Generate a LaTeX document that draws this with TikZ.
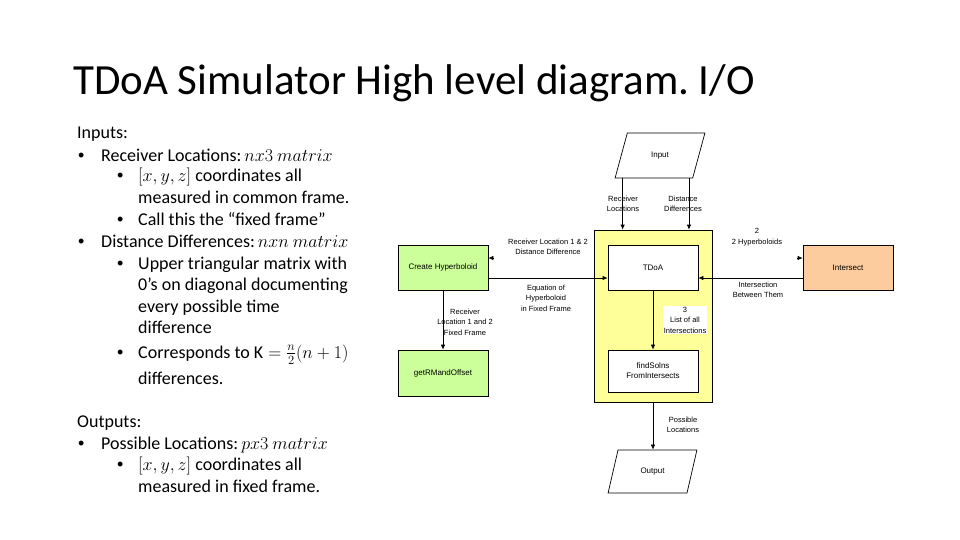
\RequirePackage{fix-cm}
\documentclass[tikz,border=0pt]{standalone}
\usepackage{amsmath}
\usepackage{fontspec}
\setmainfont{Carlito}
\newfontfamily\arialfont{Liberation Sans}
\usetikzlibrary{shapes.geometric,arrows.meta,calc}
\definecolor{yel}{RGB}{255,255,153}
\definecolor{grn}{RGB}{204,255,153}
\definecolor{org}{RGB}{252,204,158}
\frenchspacing
\begin{document}
\begin{tikzpicture}[x=1pt,y=-1pt,
  body/.style={anchor=base west, inner sep=0pt, font=\fontsize{18}{21}\selectfont},
  bul/.style={anchor=base west, inner sep=0pt, font=\arialfont\fontsize{18}{21}\selectfont},
  title/.style={anchor=base west, inner sep=0pt, font=\fontsize{43}{50}\selectfont},
  box/.style={draw, line width=0.7pt, minimum width=90pt, minimum height=45pt, align=center,
    font=\arialfont\fontsize{8}{10}\selectfont, inner sep=1pt},
  lab/.style={align=center, font=\arialfont\fontsize{7.5}{10.5}\selectfont, inner sep=1pt},
  arr/.style={line width=0.7pt, -{Latex[length=5pt,width=4.5pt]}},
  para/.style={draw, line width=0.7pt, trapezium, trapezium left angle=68, trapezium right angle=112,
    trapezium stretches=true, minimum width=90pt, minimum height=45pt,
    font=\arialfont\fontsize{8}{10}\selectfont, inner sep=1pt}
]
\useasboundingbox (0,0) rectangle (960,540);
\fill[white] (0,0) rectangle (960,540);

% title
\node[title] (ttl) at (73,95) {TDoA Simulator High level diagram. I/O};

% body text
\node[body] (l1) at (77,139) {Inputs:};
\node[bul] (b2) at (78,161) {•};
\node[body] (l2) at (101,161) {Receiver Locations:\,$nx3\ matrix$};
\node[bul] (b3) at (117,182) {•};
\node[body] (l3) at (138,182) {$[x,y,z]$ coordinates all};
\node[body] (l4) at (138,204) {measured in common frame.};
\node[bul] (b5) at (117,225) {•};
\node[body] (l5) at (138,225) {Call this the “fixed frame”};
\node[bul] (b6) at (78,247) {•};
\node[body] (l6) at (101,247) {Distance Differences:\,$nxn\ matrix$};
\node[bul] (b7) at (117,269) {•};
\node[body] (l7) at (138,269) {Upper triangular matrix with};
\node[body] (l8) at (138,290) {0’s on diagonal documenting};
\node[body] (l9) at (138,312) {every possible time};
\node[body] (l10) at (138,333) {difference};
\node[bul] (b11) at (117,358) {•};
\node[body] (l11) at (138,358) {Corresponds to $\mathrm{K}=\frac{n}{2}(n+1)$};
\node[body] (l12) at (138,384) {differences.};
\node[body] (l13) at (77,427) {Outputs:};
\node[bul] (b14) at (78,449) {•};
\node[body] (l14) at (101,449) {Possible Locations:\,$px3\ matrix$};
\node[bul] (b15) at (117,470) {•};
\node[body] (l15) at (138,470) {$[x,y,z]$ coordinates all};
\node[body] (l16) at (138,492) {measured in fixed frame.};

% diagram
\node[draw, line width=0.7pt, fill=yel, minimum width=118pt, minimum height=172pt] (frame) at (653,316) {};
\node[para] (input) at (660,155.5) {Input};
\node[box, fill=white] (tdoa) at (653,267.5) {TDoA};
\node[box, fill=white, minimum height=42pt] (find) at (653,371) {findSolns\\FromIntersects};
\node[box, fill=grn] (hyp) at (443,267.5) {Create Hyperboloid};
\node[box, fill=grn, minimum height=46pt] (getrm) at (443,373) {getRMandOffset};
\node[box, fill=org] (inter) at (848,267.5) {Intersect};
\node[para, minimum height=43pt, minimum width=89pt] (output) at (652.5,471.5) {Output};

% connectors
\draw[arr] ([xshift=8pt]input.bottom left corner) -- ([xshift=8pt]input.bottom left corner |- frame.north);
\draw[arr] ([xshift=-4pt]input.bottom right corner) -- ([xshift=-4pt]input.bottom right corner |- frame.north);
\draw[arr] ([yshift=-10.5pt]hyp.east) -- ([yshift=-10.5pt]tdoa.west);
\draw[arr, shorten <=114pt] ([yshift=9.5pt]tdoa.west) -- ([yshift=9.5pt]hyp.east);
\draw[arr] ([yshift=-10.5pt]inter.west) -- ([yshift=-10.5pt]tdoa.east);
\draw[arr, shorten <=99pt] ([yshift=9.5pt]tdoa.east) -- ([yshift=9.5pt]inter.west);
\draw[arr] (hyp.south) -- (getrm.north);
\draw[arr] (tdoa.south) -- (find.north);
\draw[arr] (frame.south) -- (frame.south |- output.north);

% labels
\node[lab] (lrl) at (623,204) {Receiver\\Locations};
\node[lab] (ldd) at (683,204) {Distance\\Differences};
\node[lab] (lrd) at (548,247) {Receiver Location 1 \& 2\\Distance Difference};
\node[lab] (leq) at (546,298) {Equation of\\Hyperboloid\\in Fixed Frame};
\node[lab] (lff) at (465,322) {Receiver\\Location 1 and 2\\Fixed Frame};
\node[lab] (l2h) at (757,237) {2\\2 Hyperboloids};
\node[lab] (lib) at (758,290) {Intersection\\Between Them};
\node[lab, fill=white] (lli) at (685,320) {3\\List of all\\Intersections};
\node[lab] (lpl) at (683,425) {Possible\\Locations};
\end{tikzpicture}
\end{document}
